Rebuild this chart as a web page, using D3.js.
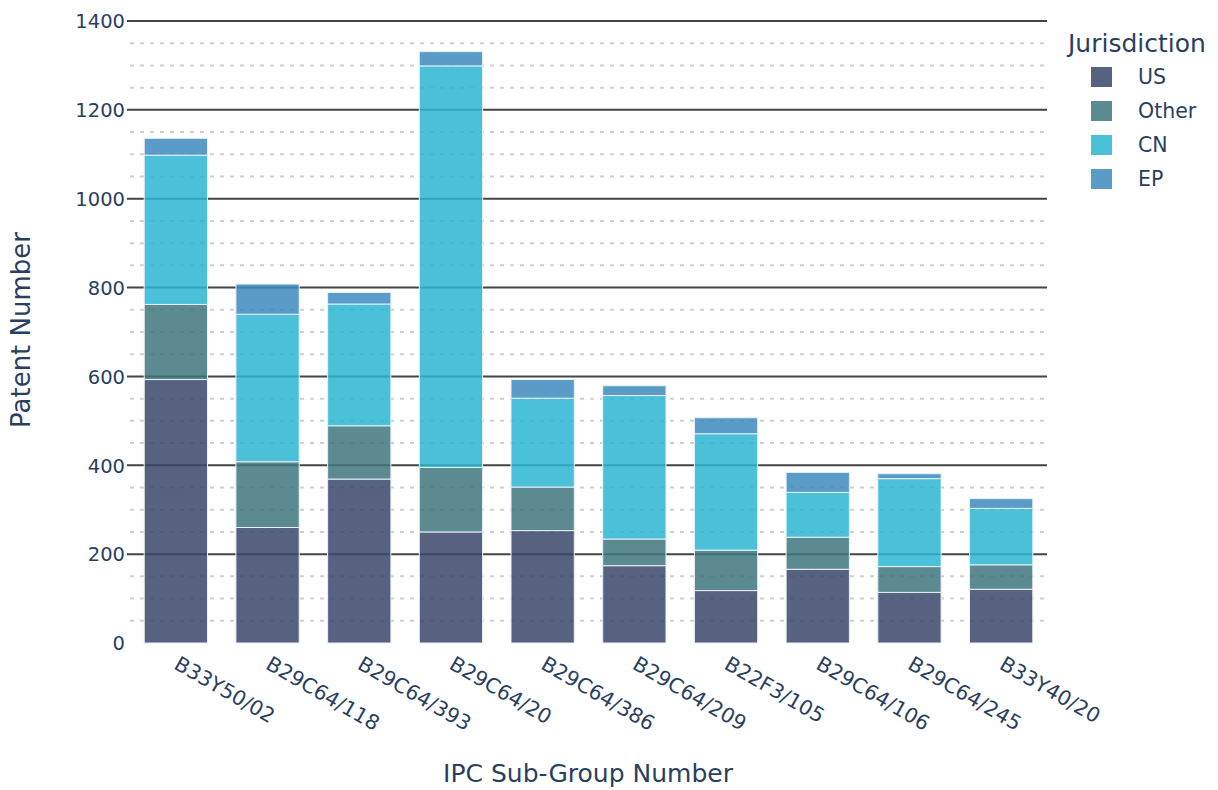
<!DOCTYPE html>
<html>
<head>
<meta charset="utf-8">
<script src="https://cdn.jsdelivr.net/npm/d3@7"></script>
<style>
  html, body { margin: 0; padding: 0; background: #fff; }
  svg text { font-family: "DejaVu Sans", Verdana, sans-serif; fill: #2a3f5f; }
</style>
</head>
<body>
<svg id="chart" width="1218" height="790"></svg>
<script>
const categories = ["B33Y50/02","B29C64/118","B29C64/393","B29C64/20","B29C64/386","B29C64/209","B22F3/105","B29C64/106","B29C64/245","B33Y40/20"];
const seriesNames = ["US","Other","CN","EP"];
const usValues    = [593, 260, 369, 250, 253, 174, 118, 166, 114, 121];
const otherValues = [169, 148, 120, 145,  98,  60,  91,  72,  58,  55];
const cnValues    = [336, 332, 274, 904, 200, 323, 262, 101, 198, 127];
const epValues    = [ 38,  68,  26,  32,  42,  22,  36,  45,  11,  22];
const yTicks = [0, 200, 400, 600, 800, 1000, 1200, 1400];
const colors = ["#39476b", "#3e757c", "#2bb6d2", "#3d89be"];

const svg = d3.select("#chart");
const margin = {left: 130, right: 171, top: 21, bottom: 147};
const W = 1218, H = 790;
const x = d3.scaleBand().domain(categories).range([margin.left, W - margin.right]).paddingInner(0.31).paddingOuter(0.155);
const y = d3.scaleLinear().domain([0, 1400]).range([H - margin.bottom, margin.top]);

// minor dashed gridlines
const minor = d3.range(50, 1400, 50).filter(v => v % 200 !== 0);
svg.append("g").selectAll("line").data(minor).join("line")
  .attr("x1", margin.left).attr("x2", W - margin.right)
  .attr("y1", d => y(d)).attr("y2", d => y(d))
  .attr("stroke", "#cfcfcf").attr("stroke-width", 2).attr("stroke-dasharray", "4,6");

// major gridlines
svg.append("g").selectAll("line").data(yTicks.filter(v => v > 0)).join("line")
  .attr("x1", margin.left - 3).attr("x2", W - margin.right)
  .attr("y1", d => y(d)).attr("y2", d => y(d))
  .attr("stroke", "#444").attr("stroke-width", 2);

// stacked data
const rows = categories.map((c, i) => ({cat: c, US: usValues[i], Other: otherValues[i], CN: cnValues[i], EP: epValues[i]}));
const stack = d3.stack().keys(seriesNames)(rows);

svg.append("g").selectAll("g").data(stack).join("g")
  .attr("fill", (d, i) => colors[i])
  .selectAll("rect").data(d => d).join("rect")
  .attr("x", d => x(d.data.cat))
  .attr("width", x.bandwidth())
  .attr("y", d => y(d[1]))
  .attr("height", d => y(d[0]) - y(d[1]))
  .attr("fill-opacity", 0.85)
  .attr("stroke", "#e8f0f8").attr("stroke-width", 1);

// y axis labels
const yAxis = d3.axisLeft(y).tickValues(yTicks).tickFormat(d3.format("d")).tickSize(0).tickPadding(0);
const ya = svg.append("g").attr("transform", `translate(${margin.left - 5},0)`).call(yAxis);
ya.select(".domain").remove();
ya.selectAll("text").attr("font-size", 19.5).attr("fill", "#2a3f5f").attr("dy", "0.35em");

// x axis labels
const xAxis = d3.axisBottom(x).tickSize(0).tickPadding(0);
const xa = svg.append("g").attr("transform", `translate(0,${H - margin.bottom})`).call(xAxis);
xa.select(".domain").remove();
xa.selectAll("text")
  .attr("font-size", 20.5).attr("fill", "#2a3f5f")
  .attr("text-anchor", "start")
  .attr("dy", null).attr("y", null)
  .attr("transform", "translate(-3,25) rotate(30)");

// axis titles
svg.append("text").attr("x", 588).attr("y", 782).attr("text-anchor", "middle")
  .attr("font-size", 25).text("IPC Sub-Group Number");
svg.append("text").attr("transform", "translate(30,330) rotate(-90)").attr("text-anchor", "middle")
  .attr("font-size", 26).text("Patent Number");

// legend
const lg = svg.append("g");
lg.append("text").attr("x", 1068).attr("y", 52).attr("font-size", 25).text("Jurisdiction");
seriesNames.forEach((s, i) => {
  const cy = 77 + i * 34;
  lg.append("rect").attr("x", 1091).attr("y", cy - 10).attr("width", 21).attr("height", 20)
    .attr("fill", colors[i]).attr("fill-opacity", 0.85);
  lg.append("text").attr("x", 1138).attr("y", cy).attr("dy", "0.35em").attr("font-size", 20.5).text(s);
});
</script>
</body>
</html>
